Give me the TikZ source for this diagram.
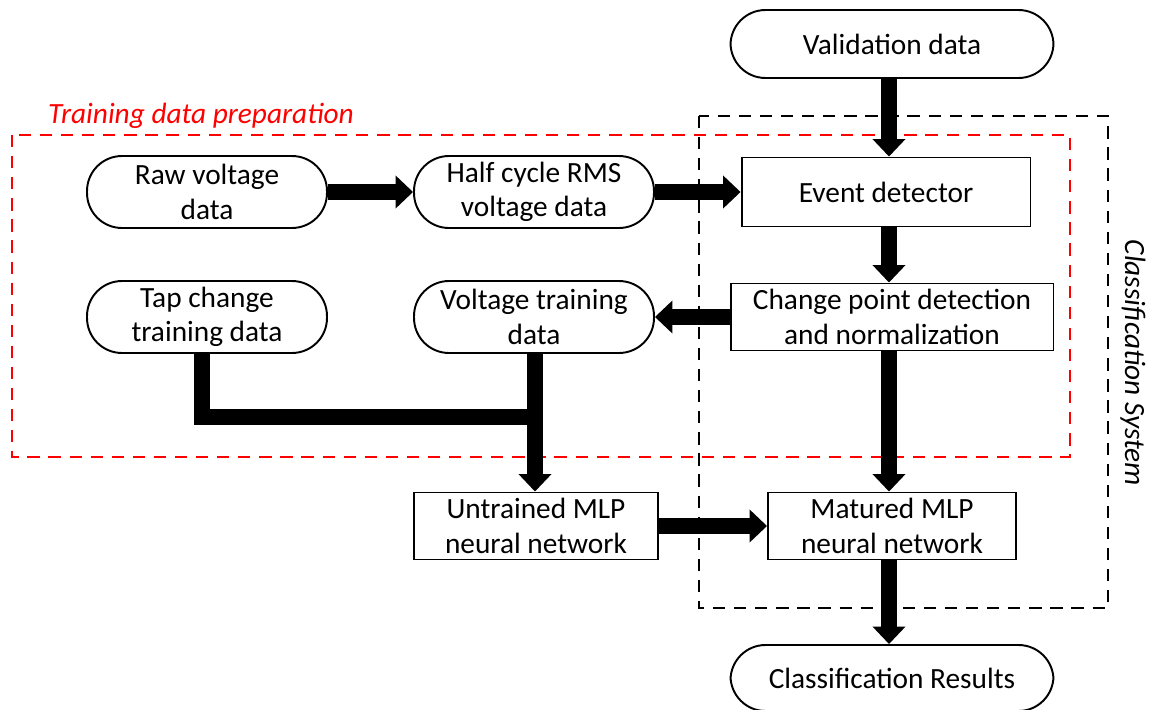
\documentclass[tikz,border=0pt]{standalone}
\usepackage{fontspec}
\setmainfont{Carlito}
\usetikzlibrary{arrows.meta,positioning}

\begin{document}
\begin{tikzpicture}[x=0.02cm, y=-0.02cm,
        every node/.style={font=\fontsize{16.7}{19.5}\selectfont, align=center},
        term/.style={draw, line width=1.1pt, rounded corners=0.7cm, minimum width=4.8cm, minimum height=1.44cm, inner sep=0pt},
        proc/.style={draw, line width=1.1pt, minimum height=1.34cm, inner sep=0pt},
        fat/.style={line width=9.3pt, line join=miter},
        fatarrow/.style={fat, -{Triangle[width=0.64cm, length=0.35cm]}},
        frame/.style={dashed, line width=1.1pt, dash pattern=on 7pt off 5pt}]
        \useasboundingbox (0, 0) rectangle (1153, 710);
        % boxes
        \node[term, minimum width=6.46cm, minimum height=1.36cm] (valid) at (892, 44) {Validation data};
        \node[term] (raw) at (207, 192) {Raw voltage\\data};
        \node[term] (rms) at (534, 192) {Half cycle RMS\\voltage data};
        \node[proc, minimum width=5.78cm, minimum height=1.38cm] (event) at (886, 192) {Event detector};
        \node[term] (tap) at (207, 317) {Tap change\\training data};
        \node[term] (vtrain) at (534, 317) {Voltage training\\data};
        \node[proc, minimum width=6.46cm] (change) at (892, 317) {Change point detection\\and normalization};
        \node[proc, minimum width=4.88cm] (untrained) at (536, 526) {Untrained MLP\\neural network};
        \node[proc, minimum width=4.96cm] (matured) at (892, 526) {Matured MLP\\neural network};
        \node[term, minimum width=6.46cm, minimum height=1.32cm] (result) at (892, 678) {Classification Results};
        % frames
        \draw[frame, red] (12, 135) rectangle (1070, 457);
        \draw[frame] (699, 116) rectangle (1108, 608);
        \node[red, font=\fontsize{16.7}{19.5}\selectfont\itshape] (trainlbl) at (201, 116) {Training data preparation};
        \node[rotate=-90, font=\fontsize{16.7}{19.5}\selectfont\itshape] (syslbl) at (1133, 363) {Classification System};
        % arrows
        \coordinate (spine) at (889, 0);
        \coordinate (join) at (535, 417);
        \draw[fatarrow] (valid.south -| spine) -- (event.north -| spine);
        \draw[fatarrow] (raw) -- (rms);
        \draw[fatarrow] (rms) -- (event);
        \draw[fatarrow] (event.south -| spine) -- (change.north -| spine);
        \draw[fatarrow] (change) -- (vtrain);
        \draw[fat] ([xshift=-0.1cm]tap.south) |- ([xshift=0.16cm]join);
        \draw[fatarrow] (vtrain.south -| join) -- (join |- untrained.north);
        \draw[fatarrow] (untrained) -- (matured);
        \draw[fatarrow] (change.south -| spine) -- (matured.north -| spine);
        \draw[fatarrow] (matured.south -| spine) -- (result.north -| spine);
\end{tikzpicture}
\end{document}
